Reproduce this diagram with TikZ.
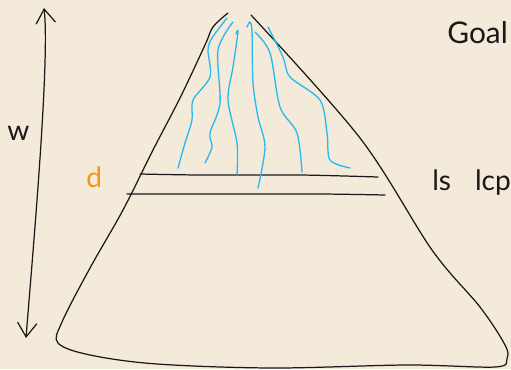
\documentclass[tikz,border=0pt]{standalone}
\usepackage{fontspec}
\setmainfont{Lato}
\usetikzlibrary{arrows.meta}
\definecolor{sketch-paper}{RGB}{243,234,217}
\definecolor{sketch-ink}{RGB}{25,25,25}
\definecolor{sketch-blue}{RGB}{40,185,240}
\definecolor{sketch-orange}{RGB}{247,148,30}

\begin{document}
\begin{tikzpicture}[x=0.02cm, y=-0.02cm,
  ink/.style={draw=sketch-ink, line width=0.7pt, line cap=round, line join=round},
  flow/.style={draw=sketch-blue, line width=0.75pt, line cap=round, line join=round},
  note/.style={font=\fontsize{16}{19}\selectfont, text=sketch-ink, inner sep=0pt, anchor=base west},
  >={Straight Barb[length=8pt, width=11pt]},
]
  % Paper
  \fill[sketch-paper] (0,0) rectangle (511,369);
  \useasboundingbox (0,0) rectangle (511,369);

  % Pyramid outline
  \draw[ink] plot[smooth, tension=0.55] coordinates {
    (228,13) (213,27) (205,45) (180,98) (153,150) (123,210) (90,268)
    (62,322) (58,343) (90,355) (157,364) (273,368) (407,365) (495,367)
    (507,359) (505,345) (480,307) (432,250) (360,138) (251,15)};

  % Cuts
  \draw[ink] plot[smooth] coordinates {(140,174) (200,175) (300,175) (378,177)};
  \draw[ink] plot[smooth] coordinates {(127,194) (220,194) (320,194) (385,195)};

  % Flow lines
  \draw[flow] plot[smooth] coordinates {(227,18) (212,38) (208,50) (210,77) (193,100) (192,120) (185,143) (178,168)};
  \draw[flow] plot[smooth] coordinates {(233,22) (218,50) (220,103) (210,133) (212,147) (205,163)};
  \draw[flow] plot[smooth] coordinates {(236,34) (238,32) (233,67) (228,100) (237,143) (237,175)};
  \draw[flow] plot[smooth] coordinates {(247,27) (250,22) (252,32) (253,83) (258,117) (265,147) (258,188)};
  \draw[flow] plot[smooth] coordinates {(255,32) (270,53) (280,107) (297,133) (302,172)};
  \draw[flow] plot[smooth] coordinates {(268,27) (283,57) (290,77) (320,100) (327,133) (330,160) (350,168)};

  % Width arrow
  \coordinate (wtop) at (44,8);
  \coordinate (wbot) at (26,338);
  \draw[ink, <->] (wtop) .. controls (50,60) and (33,250) .. (wbot);

  % Labels
  \node[note] (wlabel) at (7,140) {w};
  \node[note, text=sketch-orange] (dlabel) at (86,187) {d};
  \node[note, font=\fontsize{17}{20}\selectfont] (goal) at (447,43) {Goal};
  \node[note] (lcp) at (432,190) {ls\hspace{0.85em}lcp};
\end{tikzpicture}
\end{document}
